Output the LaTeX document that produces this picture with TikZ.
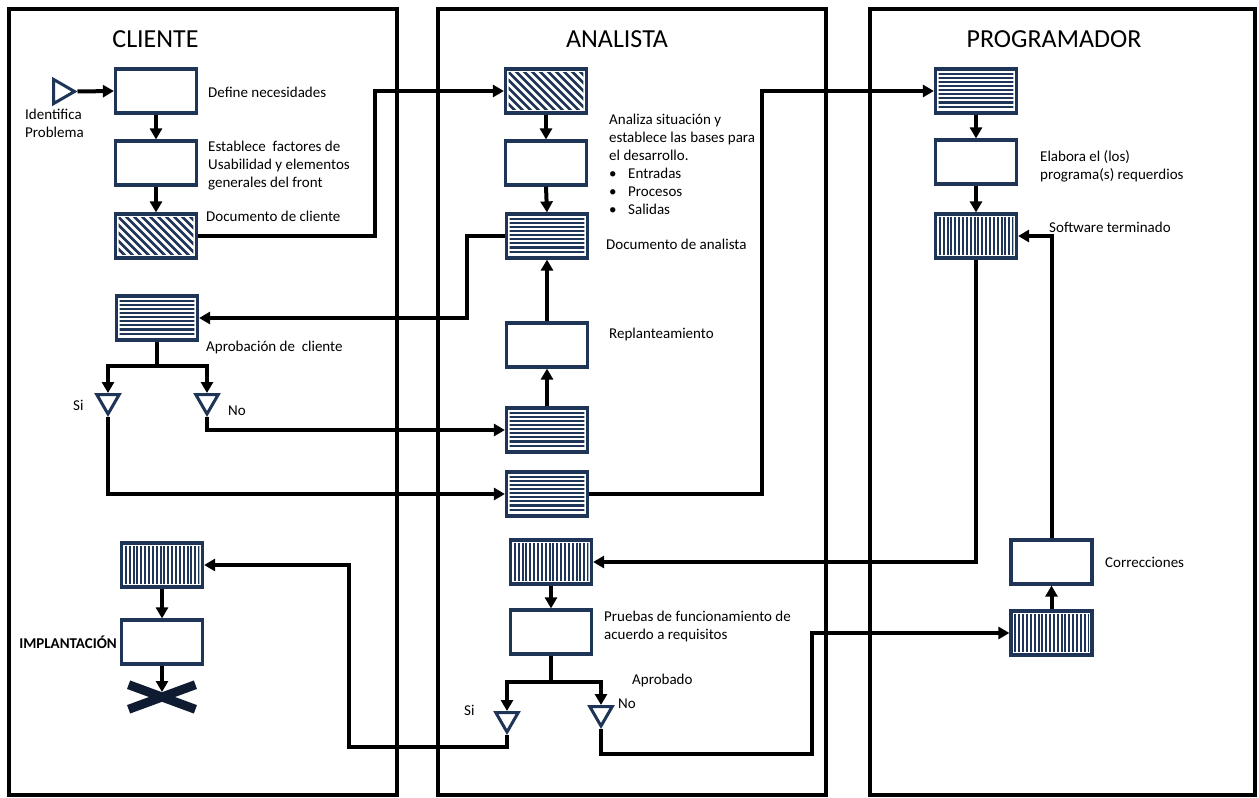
\documentclass[tikz,border=0pt]{standalone}
\usepackage{fontspec}
\setmainfont{Carlito}
\usetikzlibrary{arrows.meta,shapes.geometric}
\definecolor{boxblue}{HTML}{1F3557}
\definecolor{crossblue}{HTML}{0E1B30}
\begin{document}
\begin{tikzpicture}[x=1pt,y=-1pt,
  lane/.style={draw=black, line width=4pt},
  box/.style={draw=boxblue, line width=3.2pt, fill=white,
    minimum width=81pt, minimum height=44pt, inner sep=0pt},
  hbox/.style={box, path picture={
    \clip ([shift={(3.2pt,-3.2pt)}]path picture bounding box.north west)
      rectangle ([shift={(-3.2pt,3.2pt)}]path picture bounding box.south east);
    \foreach \k in {0,...,10}
      \draw[line width=2.1pt] ([yshift={-4.8pt-\k*4.1pt}]path picture bounding box.north west) -- ++(120pt,0pt);
  }},
  vbox/.style={box, path picture={
    \clip ([shift={(3.2pt,-3.2pt)}]path picture bounding box.north west)
      rectangle ([shift={(-3.2pt,3.2pt)}]path picture bounding box.south east);
    \foreach \k in {0,...,21}
      \draw[line width=2pt] ([xshift={4.4pt+\k*3.85pt}]path picture bounding box.north west) -- ++(0pt,-60pt);
  }},
  dbox/.style={box, path picture={
    \clip ([shift={(3.2pt,-3.2pt)}]path picture bounding box.north west)
      rectangle ([shift={(-3.2pt,3.2pt)}]path picture bounding box.south east);
    \foreach \k in {-8,...,12}
      \draw[line width=2.6pt] ([xshift={\k*8pt}]path picture bounding box.north west) -- ++(60pt,-60pt);
  }},
  tri/.style={regular polygon, regular polygon sides=3, draw=boxblue,
    line width=3pt, fill=white, minimum size=26pt, inner sep=0pt},
  tdown/.style={tri, shape border rotate=180},
  conn/.style={draw=black, line width=4pt},
  arr/.style={conn, -{Triangle[length=11pt,width=12pt]}},
  xbar/.style={draw=crossblue, line width=9pt, line cap=butt},
  lbl/.style={font=\fontsize{15}{18}\selectfont, inner sep=0pt, align=left},
  ttl/.style={font=\fontsize{26}{30}\selectfont, inner sep=0pt}
]
\useasboundingbox (0,0) rectangle (1259,798);
\fill[white] (0,0) rectangle (1259,798);

% swimlanes
\draw[lane] (9,8.5) rectangle (397,795);
\draw[lane] (438,8.5) rectangle (826,795);
\draw[lane] (870,9) rectangle (1255,795);

\node[ttl, anchor=base] (hc) at (155.5,47) {CLIENTE};
\node[ttl, anchor=base] (ha) at (617,47) {ANALISTA};
\node[ttl, anchor=base] (hp) at (1054,47) {PROGRAMADOR};

% ---- CLIENTE ----
\node[tri, minimum size=28pt, shape border rotate=-90] (s0) at (60.5,91.5) {};
\node[box] (c1) at (156,91) {};
\node[box] (c2) at (156,163) {};
\node[dbox] (c3) at (156,236) {};
\node[hbox] (c4) at (157,318) {};
\node[tdown] (ts) at (108,401) {};
\node[tdown] (tn) at (207,401) {};
\node[vbox] (c5) at (162,565) {};
\node[box] (c6) at (162,642) {};
\coordinate (xend) at (162,692);

% multi-line labels are placed by the baseline of their last line
\node[lbl, anchor=base west] (l0) at (25,137) {Identifica\\Problema};
\node[lbl, anchor=base west] (l1) at (208,97) {Define necesidades};
\node[lbl, anchor=base west] (l2) at (208,187) {Establece\ \ factores de\\Usabilidad y elementos\\generales del front};
\node[lbl, anchor=base west] (l3) at (206,221) {Documento de cliente};
\node[lbl, anchor=base west] (l4) at (206,351) {Aprobación de\ \ cliente};
\node[lbl, anchor=base west] (l5) at (73,410) {Si};
\node[lbl, anchor=base west] (l6) at (228,415) {No};
\node[lbl, anchor=base east, font=\fontsize{15}{18}\selectfont\bfseries] (l7) at (117,648) {IMPLANTACIÓN};

% ---- ANALISTA ----
\node[dbox] (a1) at (546,91) {};
\node[box] (a2) at (546,163) {};
\node[hbox] (a3) at (547,236) {};
\node[box] (a4) at (547,345) {};
\node[hbox] (a5) at (547,430) {};
\node[hbox] (a6) at (547,494) {};
\node[vbox] (a7) at (551,562) {};
\node[box] (a8) at (551,632) {};
\node[tdown] (tas) at (507,719) {};
\node[tdown] (tan) at (601,713) {};

\node[lbl, anchor=base west] (m1) at (609,214) {Analiza situación y\\establece las bases para\\el desarrollo.\\\makebox[19pt][l]{•}Entradas\\\makebox[19pt][l]{•}Procesos\\\makebox[19pt][l]{•}Salidas};
\node[lbl, anchor=base west] (m2) at (606,249) {Documento de analista};
\node[lbl, anchor=base west] (m3) at (609,338) {Replanteamiento};
\node[lbl, anchor=base west] (m4) at (604,639) {Pruebas de funcionamiento de\\acuerdo a requisitos};
\node[lbl, anchor=base west] (m5) at (632,684) {Aprobado};
\node[lbl, anchor=base west] (m6) at (464,715) {Si};
\node[lbl, anchor=base west] (m7) at (618,708) {No};

% ---- PROGRAMADOR ----
\node[hbox] (p1) at (976,91) {};
\node[box] (p2) at (976,162) {};
\node[vbox] (p3) at (976,236) {};
\node[box] (p4) at (1051.5,562) {};
\node[vbox] (p5) at (1051.5,633) {};

\node[lbl, anchor=base west] (r1) at (1040,179) {Elabora el (los)\\programa(s) requerdios};
\node[lbl, anchor=base west] (r2) at (1049,232) {Software terminado};
\node[lbl, anchor=base west] (r3) at (1105,567) {Correcciones};

% routing points
\coordinate (k1) at (375,0);
\coordinate (k2) at (762,0);
\coordinate (k3) at (467,0);
\coordinate (cb) at (157,366);
\coordinate (ab) at (551,682);
\coordinate (k4) at (349,747);
\coordinate (k5) at (812,754);

% end cross
\draw[xbar] (128.6,684.7) -- (195.4,709.3) (128.6,709.3) -- (195.4,684.7);

% connectors
\draw[arr] (s0.east) -- (c1.west);
\draw[arr] (c1.south) -- (c2.north);
\draw[arr] (c2.south) -- (c3.north);
\draw[arr] (c3.east) -- (c3.east -| k1) |- (a1.west);
\draw[arr] (a1.south) -- (a2.north);
\draw[arr] (a2.south) -- (a3.north);
\draw[arr] (a3.west) -- (a3.west -| k3) |- (c4.east);
\draw[conn] (c4.south) -- (cb);
\draw[arr] (cb) -| (ts.north);
\draw[arr] (cb) -| (tn.north);
\draw[arr] (tn.south) |- (a5.west);
\draw[arr] (ts.south) |- (a6.west);
\draw[arr] (a5.north) -- (a4.south);
\draw[arr] (a4.north) -- (a3.south);
\draw[arr] (a6.east) -- (a6.east -| k2) |- (p1.west);
\draw[arr] (p1.south) -- (p2.north);
\draw[arr] (p2.south) -- (p3.north);
\draw[arr] (p3.south) |- (a7.east);
\draw[arr] (a7.south) -- (a8.north);
\draw[conn] (a8.south) -- (ab);
\draw[arr] (ab) -| (tas.north);
\draw[arr] (ab) -| (tan.north);
\draw[arr] (tas.south) |- (k4) |- (c5.east);
\draw[arr] (tan.south) |- (k5) |- (p5.west);
\draw[arr] (p5.north) -- (p4.south);
\draw[arr] (p4.north) |- (p3.east);
\draw[arr] (c5.south) -- (c6.north);
\draw[arr] (c6.south) -- (xend);
\end{tikzpicture}
\end{document}
